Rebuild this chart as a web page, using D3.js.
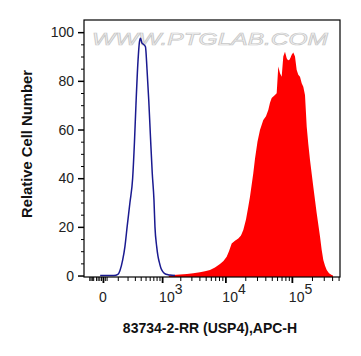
<!DOCTYPE html>
<html>
<head>
<meta charset="utf-8">
<script src="https://cdn.jsdelivr.net/npm/d3@7"></script>
<style>
  body { margin: 0; background: #fff; }
  svg { display: block; font-family: "Liberation Sans", Arial, sans-serif; }
  .tick-label { font-size: 14px; fill: #222; }
  .axis-title { font-size: 14px; font-weight: bold; fill: #111; }
</style>
</head>
<body>
<div id="chart"></div>
<script>
// Data (x in fluorescence units, y in % of max)
const blueX = [-15, 69, 101, 119, 146, 170, 196, 230, 267, 294, 317, 351, 377, 396, 425, 455, 498, 533, 576, 620, 669, 719, 749, 803, 847, 893, 955, 1034, 1163, 1357, 1640];
const blueY = [0, 0, 0.5, 2, 6.4, 12, 20.4, 30, 40, 55, 70, 88, 96, 97.5, 95.5, 95, 94, 85, 72, 57, 42, 31, 20, 12, 8, 5.5, 3, 1.5, 0.5, 0.2, 0];

const redX = [1300, 1521, 1977, 2556, 3212, 4084, 4880, 5824, 6945, 8279, 9358, 10468, 11343, 12463, 13982, 15683, 17225, 18656, 20490, 22185, 23535, 26385, 27990, 30510, 33270, 37290, 40935, 44325, 47010, 49845, 55860, 59235, 62595, 66375, 70395, 74385, 78870, 83640, 87480, 91500, 95355, 99390, 105030, 111375, 118095, 124785, 132315, 140310, 148275, 157215, 166725, 176175, 186810, 209325, 235365, 263700, 279600, 295545, 313365, 332265, 359670, 394695, 412740];
const redY = [0, 0.2, 0.4, 0.6, 0.9, 1.4, 1.8, 2.3, 3.3, 4.7, 6, 7.7, 10, 13.2, 14.3, 15.2, 16.5, 18.7, 23, 28.3, 32.4, 42, 48, 55, 59.8, 63.9, 65.5, 68, 71, 72.9, 74.2, 74.9, 85.9, 83.1, 81.7, 90, 92, 89.3, 88.5, 88.6, 89.5, 90.7, 91.6, 90, 84.5, 82.5, 81.7, 79, 77.6, 74.2, 61.2, 54, 47.5, 36.5, 25.6, 16, 10.5, 6.4, 4, 2.3, 0.9, 0.2, 0];

const yMajor = [0, 20, 40, 60, 80, 100];
const yMinor = [5, 10, 15, 25, 30, 35, 45, 50, 55, 65, 70, 75, 85, 90, 95];
const xMajor = [0, 1e3, 1e4, 1e5];
const xMajorExp = ["", "3", "4", "5"];
const xMinor = [-90, -80, -70, -60, -40, -30, -20, -10, 10, 20,
  100, 200, 300, 400, 500, 600, 700, 800, 900,
  2e3, 3e3, 4e3, 5e3, 6e3, 7e3, 8e3, 9e3,
  2e4, 3e4, 4e4, 5e4, 6e4, 7e4, 8e4, 9e4,
  2e5, 3e5, 4e5, 5e5];

const xTitle = "83734-2-RR (USP4),APC-H";
const yTitle = "Relative Cell Number";
const watermark = "WWW.PTGLAB.COM";

const W = 361, H = 356;
const plot = { left: 84, right: 340, top: 20, bottom: 277 };

const svg = d3.select("#chart").append("svg")
    .attr("width", W)
    .attr("height", H);

const x = d3.scaleSymlog()
    .constant(150)
    .domain([-138, 525000])
    .range([plot.left, plot.right]);

const y = d3.scaleLinear()
    .domain([-0.6, 105])
    .range([plot.bottom, plot.top]);

// watermark
svg.append("text")
    .attr("x", 92)
    .attr("y", 45)
    .attr("textLength", 236)
    .attr("lengthAdjust", "spacingAndGlyphs")
    .attr("font-size", "17px")
    .attr("font-style", "italic")
    .attr("fill", "#f5f5f5")
    .attr("stroke", "#c8c8c8")
    .attr("stroke-width", 0.7)
    .text(watermark);

// red histogram
const redData = redX.map((v, i) => [v, redY[i]]);
svg.append("path")
    .datum(redData)
    .attr("fill", "#ff0000")
    .attr("d", d3.area()
        .x(d => x(d[0]))
        .y0(y(-0.6))
        .y1(d => y(d[1])));

// blue histogram
const blueData = blueX.map((v, i) => [v, blueY[i]]);
svg.append("path")
    .datum(blueData)
    .attr("fill", "none")
    .attr("stroke", "#1a1a90")
    .attr("stroke-width", 1.5)
    .attr("d", d3.line()
        .x(d => x(d[0]))
        .y(d => y(d[1]))
        .curve(d3.curveMonotoneX));

// frame
svg.append("rect")
    .attr("x", plot.left)
    .attr("y", plot.top)
    .attr("width", plot.right - plot.left)
    .attr("height", plot.bottom - plot.top)
    .attr("fill", "none")
    .attr("stroke", "#000")
    .attr("stroke-width", 1.2);

// Y axis ticks
svg.append("g")
    .attr("transform", `translate(${plot.left},0)`)
    .call(d3.axisLeft(y).tickValues(yMinor).tickSize(3).tickFormat(""))
    .call(g => g.select(".domain").remove());

const yAx = svg.append("g")
    .attr("transform", `translate(${plot.left},0)`)
    .call(d3.axisLeft(y).tickValues(yMajor).tickSize(6).tickPadding(4))
    .call(g => g.select(".domain").remove());
yAx.selectAll("line").attr("stroke-width", 1.5);
yAx.selectAll("text")
    .attr("class", "tick-label")
    .attr("font-family", null)
    .attr("font-size", null)
    .attr("fill", null);

// X axis ticks
svg.append("g")
    .attr("transform", `translate(0,${plot.bottom})`)
    .call(d3.axisBottom(x).tickValues(xMinor).tickSize(4).tickFormat(""))
    .call(g => g.select(".domain").remove());

svg.append("g")
    .attr("transform", `translate(0,${plot.bottom})`)
    .call(d3.axisBottom(x).tickValues(xMajor).tickSize(6).tickFormat(""))
    .call(g => g.select(".domain").remove())
    .selectAll("line").attr("stroke-width", 1.8);

// X tick labels with superscripts
xMajor.forEach((v, i) => {
    const t = svg.append("text")
        .attr("class", "tick-label")
        .attr("y", 302);
    if (v === 0) {
        t.attr("x", x(v)).attr("text-anchor", "middle").text("0");
    } else {
        t.attr("x", x(v) - 3).attr("text-anchor", "start").text("10");
        t.append("tspan")
            .attr("dy", -8.5)
            .text(xMajorExp[i]);
    }
});

// axis titles
svg.append("text")
    .attr("class", "axis-title")
    .attr("x", (plot.left + plot.right) / 2 - 2)
    .attr("y", 333)
    .attr("text-anchor", "middle")
    .text(xTitle);

svg.append("text")
    .attr("class", "axis-title")
    .attr("transform", `translate(32,144) rotate(-90)`)
    .attr("text-anchor", "middle")
    .attr("font-size", "14.8px")
    .style("font-size", "14.8px")
    .text(yTitle);
</script>
</body>
</html>
